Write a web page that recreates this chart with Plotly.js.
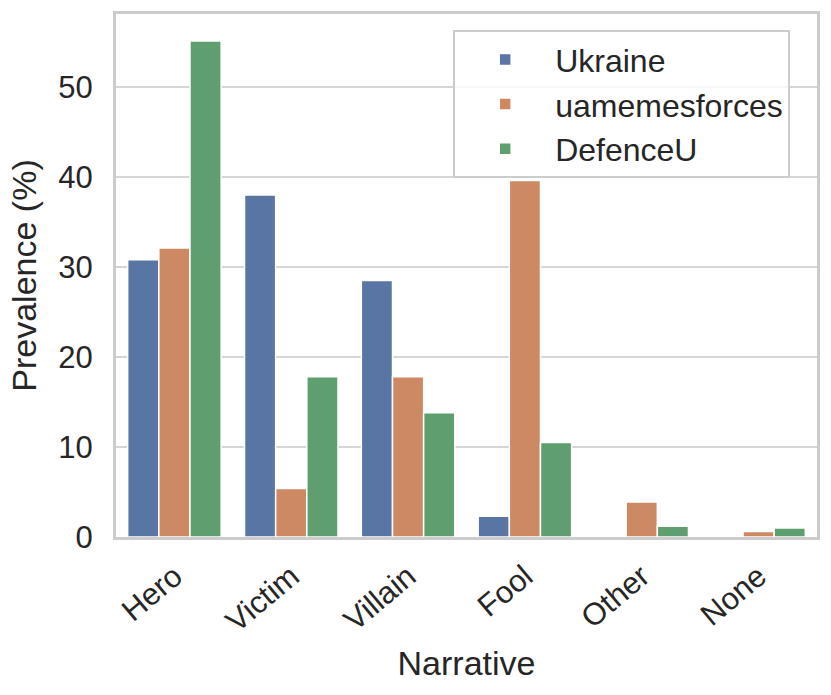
<!DOCTYPE html>
<html>
<head>
<meta charset="utf-8">
<script src="https://cdn.plot.ly/plotly-3.0.1.min.js"></script>
<style>
  html, body { margin: 0; padding: 0; background: #fff; }
  #chart { width: 831px; height: 695px; }
</style>
</head>
<body>
<div id="chart"></div>
<script>
const narratives = ['Hero', 'Victim', 'Villain', 'Fool', 'Other', 'None'];
const ukraine = [30.8, 38.0, 28.5, 2.3, 0, 0];
const uamemesforces = [32.1, 5.4, 17.8, 39.6, 3.9, 0.6];
const defenceU = [55.1, 17.8, 13.8, 10.5, 1.2, 1.0];
const yTicks = [0, 10, 20, 30, 40, 50];

const FONT = 'Liberation Sans, Arial, sans-serif';
const GRID = '#d5d5d5';

function barTrace(name, values, color) {
  return {
    type: 'bar',
    name: name,
    x: narratives,
    y: values,
    marker: { color: color, line: { color: '#ffffff', width: 1.5 } },
    hoverinfo: 'x+y+name'
  };
}

const data = [
  barTrace('Ukraine', ukraine, '#5875a4'),
  barTrace('uamemesforces', uamemesforces, '#cc8963'),
  barTrace('DefenceU', defenceU, '#5f9e6e')
];

const layout = {
  width: 831,
  height: 695,
  margin: { l: 116, r: 14, t: 14, b: 158 },
  paper_bgcolor: '#ffffff',
  plot_bgcolor: '#ffffff',
  font: { family: FONT, color: '#262626', size: 31 },
  barmode: 'group',
  bargap: 0.2,
  bargroupgap: 0,
  showlegend: true,
  legend: {
    x: 0.481, y: 0.969, xanchor: 'left', yanchor: 'top',
    bgcolor: 'rgba(255,255,255,0.8)',
    bordercolor: '#cccccc', borderwidth: 2,
    font: { size: 32, family: FONT, color: '#262626' },
    itemwidth: 90,
    tracegroupgap: 0
  },
  xaxis: {
    range: [-0.5, 5.5],
    tickangle: -40,
    tickfont: { size: 31 },
    showgrid: false,
    showline: true, linecolor: '#cccccc', linewidth: 3, mirror: true,
    ticks: '',
    ticklabelstandoff: 6,
    title: { text: 'Narrative', font: { size: 34 }, standoff: 14 },
    zeroline: false
  },
  yaxis: {
    range: [0, 58.1],
    tickvals: yTicks,
    tickfont: { size: 31 },
    showgrid: true, gridcolor: GRID, gridwidth: 2,
    showline: true, linecolor: '#cccccc', linewidth: 3, mirror: true,
    ticks: '',
    ticklabelstandoff: 14,
    title: { text: 'Prevalence (%)', font: { size: 34 }, standoff: 12 },
    zeroline: false
  }
};

Plotly.newPlot('chart', data, layout, { displayModeBar: false, staticPlot: true });
</script>
</body>
</html>
